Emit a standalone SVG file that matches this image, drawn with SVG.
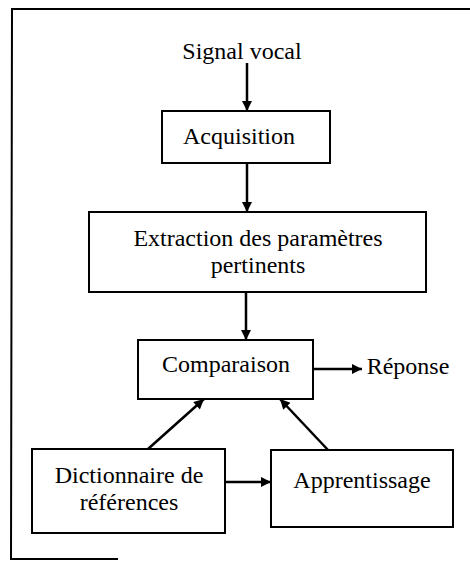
<svg xmlns="http://www.w3.org/2000/svg" width="470" height="561" viewBox="0 0 470 561">
  <style>
    .box { fill: #fff; stroke: #000; stroke-width: 2; }
    .lbl { font-size: 24px; fill: #000; text-anchor: middle; }
    .edge { stroke: #000; stroke-width: 2.5; fill: none; marker-end: url(#head); }
    .frame { stroke: #000; stroke-width: 2; fill: none; }
  </style>
  <defs>
    <marker id="head" viewBox="0 0 10 10" refX="10" refY="5" markerWidth="4.4" markerHeight="4" markerUnits="strokeWidth" orient="auto">
      <path d="M0,0 L10,5 L0,10 z" fill="#000"/>
    </marker>
  </defs>
  <rect width="470" height="561" fill="#fff"/>

  <!-- open frame: top, left and a short bottom stub -->
  <path class="frame" d="M470,9 L12,9 L11,559 L118,559"/>

  <g font-family="'Liberation Serif', 'Times New Roman', Times, 'DejaVu Serif', serif">
    <g id="signal">
      <text class="lbl" x="242" y="59">Signal vocal</text>
    </g>

    <g id="acquisition">
      <rect class="box" x="162" y="111" width="168" height="52"/>
      <text class="lbl" x="239" y="144">Acquisition</text>
    </g>

    <g id="extraction">
      <rect class="box" x="89" y="212" width="337" height="80"/>
      <text class="lbl" x="258" y="246">Extraction des paramètres</text>
      <text class="lbl" x="258" y="273">pertinents</text>
    </g>

    <g id="comparaison">
      <rect class="box" x="138" y="340" width="175" height="59"/>
      <text class="lbl" x="226" y="372">Comparaison</text>
    </g>

    <g id="reponse">
      <text class="lbl" x="408" y="374">Réponse</text>
    </g>

    <g id="dictionnaire">
      <rect class="box" x="32" y="449" width="193" height="84"/>
      <text class="lbl" x="129" y="483">Dictionnaire de</text>
      <text class="lbl" x="129" y="510">références</text>
    </g>

    <g id="apprentissage">
      <rect class="box" x="271" y="450" width="182" height="77"/>
      <text class="lbl" x="362" y="488">Apprentissage</text>
    </g>
  </g>

  <g id="connectors">
    <line class="edge" x1="247" y1="63" x2="247" y2="111"/>
    <line class="edge" x1="247" y1="163" x2="247" y2="212"/>
    <line class="edge" x1="246" y1="292" x2="246" y2="340"/>
    <line class="edge" x1="313" y1="369" x2="362" y2="369"/>
    <line class="edge" x1="148" y1="449" x2="204" y2="399"/>
    <line class="edge" x1="328" y1="450" x2="280" y2="399"/>
    <line class="edge" x1="225" y1="482" x2="271" y2="482"/>
  </g>
</svg>
